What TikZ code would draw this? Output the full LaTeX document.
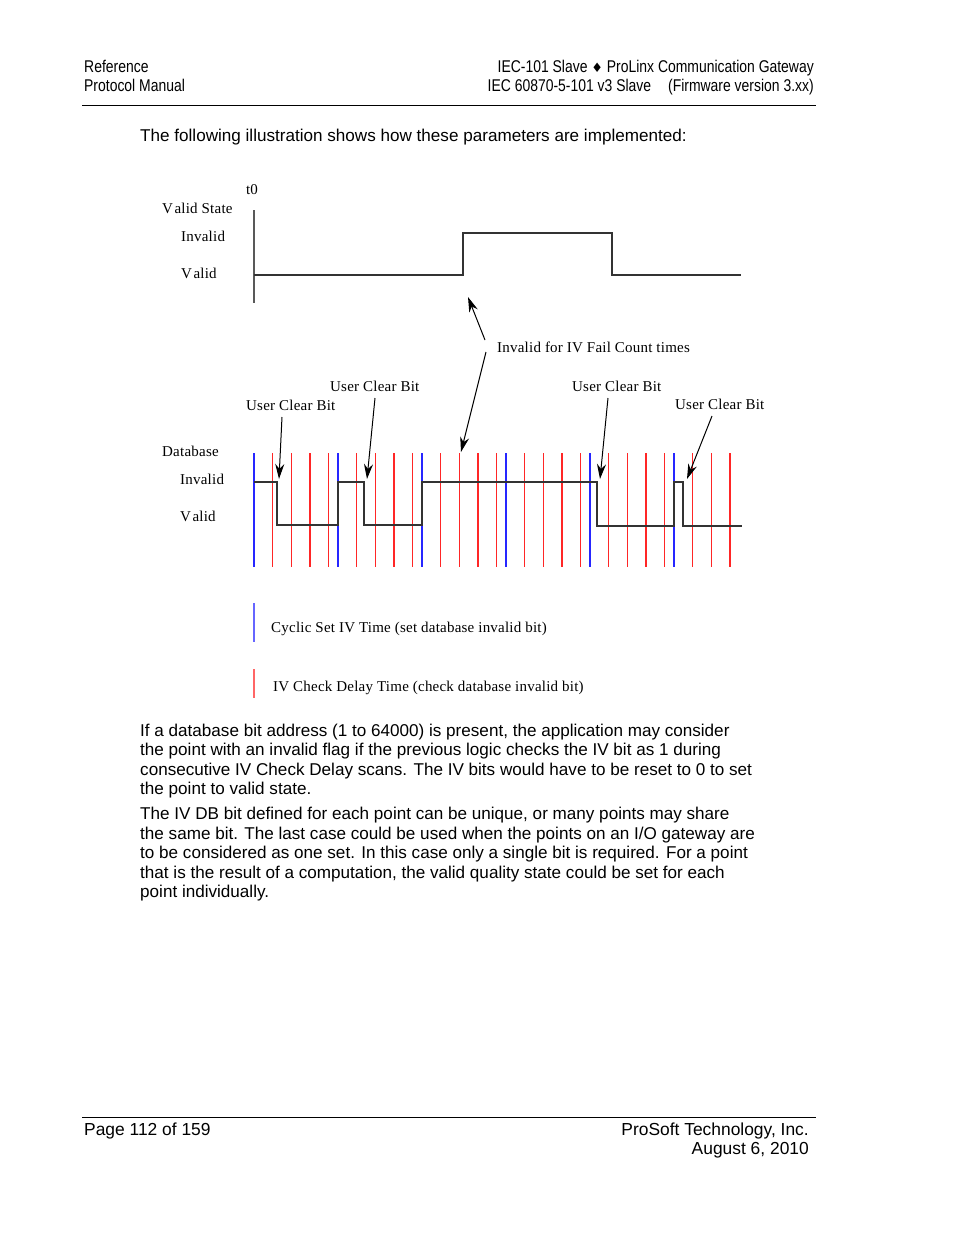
\documentclass[tikz,border=0pt]{standalone}
\usepackage{fontspec}
\setmainfont{Liberation Sans}
\newfontfamily\narrowfont[FakeStretch=0.82]{Liberation Sans}
\newfontfamily\diafont[LetterSpace=1.5]{Liberation Serif}
\newfontfamily\symfont{DejaVu Sans}
\usetikzlibrary{arrows.meta,positioning}
\tikzset{
  pagetext/.style={inner sep=0pt,font=\fontsize{17.1}{19.5}\selectfont},
  foottext/.style={inner sep=0pt,font=\fontsize{17.4}{19.5}\selectfont},
  headtext/.style={inner sep=0pt,font=\narrowfont\fontsize{17}{19}\selectfont},
  diatext/.style={inner sep=0pt,font=\diafont\fontsize{15}{17}\selectfont},
  arr/.style={-{Stealth[length=15pt,width=9pt]},line width=1pt},
  wave/.style={line width=1.4pt,black!80},
  redtick/.style={line width=1.3pt,red!85!white},
  bluetick/.style={line width=1.3pt,blue!85!white},
}
\newcommand{\Vl}{V\kern1.5pt alid}

\begin{document}
\begin{tikzpicture}[x=1pt,y=-1pt]
    \useasboundingbox (0,0) rectangle (954,1235);
    % header and footer
    \node[headtext,anchor=base west] (ref) at (84,72) {Reference};
    \node[headtext,anchor=base west] (man) at (84,91) {Protocol Manual};
    \node[headtext,anchor=base east] (prod) at (814,72) {IEC-101 Slave {\symfont\fontsize{13}{14}\selectfont ♦} ProLinx Communication Gateway};
    \node[headtext,anchor=base east] (fw) at (814,91) {IEC 60870-5-101 v3 Slave\enspace\enspace(Firmware version 3.xx)};
    \draw[line width=1pt] (82,105) -- (816,105);
    \draw[line width=1pt] (82,1117) -- (816,1117);
    \node[foottext,anchor=base west] (page) at (84,1135) {Page 112 of 159};
    \node[foottext,anchor=base east] (comp) at (809,1135) {ProSoft Technology, Inc.};
    \node[foottext,anchor=base east] (date) at (809,1154) {August 6, 2010};
    % body text
    \node[pagetext,anchor=base west] (intro) at (140,141) {The following illustration shows how these parameters are implemented:};
    \node[pagetext,anchor=base west] (p1a) at (140,736) {If a database bit address (1 to 64000) is present, the application may consider};
    \node[pagetext,anchor=base west] (p1b) at (140,755) {the point with an invalid flag if the previous logic checks the IV bit as 1 during};
    \node[pagetext,anchor=base west] (p1c) at (140,775) {consecutive IV Check Delay scans. The IV bits would have to be reset to 0 to set};
    \node[pagetext,anchor=base west] (p1d) at (140,794) {the point to valid state.};
    \node[pagetext,anchor=base west] (p2a) at (140,819) {The IV DB bit defined for each point can be unique, or many points may share};
    \node[pagetext,anchor=base west] (p2b) at (140,839) {the same bit. The last case could be used when the points on an I/O gateway are};
    \node[pagetext,anchor=base west] (p2c) at (140,858) {to be considered as one set. In this case only a single bit is required. For a point};
    \node[pagetext,anchor=base west] (p2d) at (140,878) {that is the result of a computation, the valid quality state could be set for each};
    \node[pagetext,anchor=base west] (p2e) at (140,897) {point individually.};
    % valid state
    \node[diatext,anchor=base] (t0) at (252,194) {t0};
    \node[diatext,anchor=base west] (vstate) at (162,213) {\Vl{} State};
    \node[diatext,anchor=base west] (vsinv) at (181,241) {Invalid};
    \node[diatext,anchor=base west] (vsval) at (181,278) {\Vl};
    \draw[line width=1.5pt,black!65] (254,210) -- (254,303);
    \draw[wave] (254,275) -- (463,275) -- (463,233) -- (612,233) -- (612,275) -- (741,275);
    % database
    \node[diatext,anchor=base west] (db) at (162,456) {Database};
    \node[diatext,anchor=base west] (dbinv) at (180,484) {Invalid};
    \node[diatext,anchor=base west] (dbval) at (180,521) {\Vl};
    \foreach \i in {0,...,5} {
        \draw[bluetick] ({254+84*\i},453) -- ({254+84*\i},567);
    }
    \foreach \i in {0,...,4} {
        \foreach \j in {1,...,4} {
            \draw[redtick] ({254+84*\i+18.7*\j},453) -- ({254+84*\i+18.7*\j},567);
        }
    }
    \foreach \j in {1,...,3} {
        \draw[redtick] ({674+18.7*\j},453) -- ({674+18.7*\j},567);
    }
    \draw[wave] (254,482) -- (277,482) -- (277,525) -- (338,525) -- (338,482) -- (364,482) -- (364,525)
        -- (422,525) -- (422,482) -- (597,482) -- (597,526) -- (674,526) -- (674,482) -- (683,482)
        -- (683,526) -- (742,526);
    % labels and arrows
    \node[diatext,anchor=base west] (fail) at (497,352) {Invalid for IV Fail Count times};
    \node[diatext,anchor=base west] (uc1) at (246,410) {User Clear Bit};
    \node[diatext,anchor=base west] (uc2) at (330,391) {User Clear Bit};
    \node[diatext,anchor=base west] (uc3) at (572,391) {User Clear Bit};
    \node[diatext,anchor=base west] (uc4) at (675,409) {User Clear Bit};
    \coordinate (failup) at (485,340);
    \coordinate (faildn) at (486,352);
    \coordinate (vsrise) at (468,297);
    \coordinate (dbfail) at (461,452);
    \coordinate (uc1t) at (282,417);
    \coordinate (uc1h) at (279,479);
    \coordinate (uc2t) at (375,398);
    \coordinate (uc2h) at (367,479);
    \coordinate (uc3t) at (608,398);
    \coordinate (uc3h) at (600,479);
    \coordinate (uc4t) at (712,416);
    \coordinate (uc4h) at (687,479);
    \draw[arr] (failup) -- (vsrise);
    \draw[arr] (faildn) -- (dbfail);
    \draw[arr] (uc1t) -- (uc1h);
    \draw[arr] (uc2t) -- (uc2h);
    \draw[arr] (uc3t) -- (uc3h);
    \draw[arr] (uc4t) -- (uc4h);
    % legend
    \draw[line width=1.5pt,blue!60] (254,603) -- (254,642);
    \node[diatext,anchor=base west] (cyc) at (271,632) {Cyclic Set IV Time (set database invalid bit)};
    \draw[line width=1.5pt,red!60] (254,669) -- (254,698);
    \node[diatext,anchor=base west] (chk) at (273,691) {IV Check Delay Time (check database invalid bit)};
\end{tikzpicture}
\end{document}
